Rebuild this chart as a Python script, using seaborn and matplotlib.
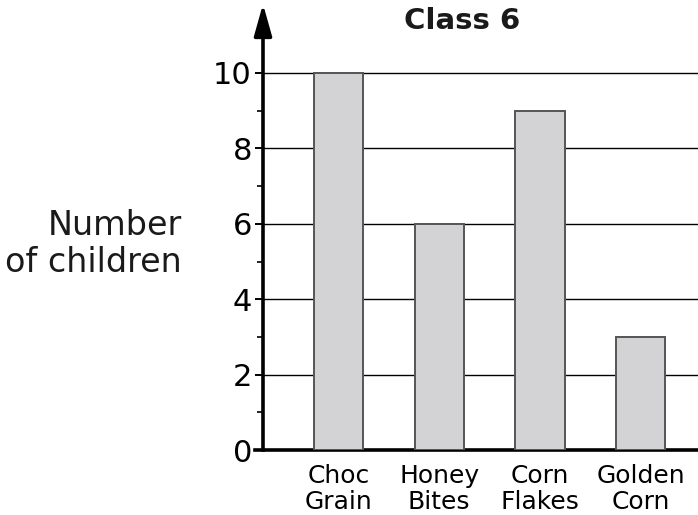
import matplotlib
matplotlib.use("Agg")
import matplotlib.pyplot as plt
import seaborn as sns
import pandas as pd

# data
cereals = ["Choc\nGrain", "Honey\nBites", "Corn\nFlakes", "Golden\nCorn"]
children = [10, 6, 9, 3]
title = "Class 6"
y_label = "Number\nof children"

df = pd.DataFrame({"cereal": cereals, "children": children})

sns.set_theme(style="white")
plt.rcParams["font.family"] = ["DejaVu Sans"]
plt.rcParams["text.color"] = "black"

fig = plt.figure(figsize=(6.98, 5.15), dpi=100)
ax = fig.add_axes([263 / 698, 1 - 450 / 515, 1 - 263 / 698, (450 - 30) / 515])

sns.barplot(data=df, x="cereal", y="children", order=cereals, color="#d3d3d5",
            saturation=1, width=0.49, edgecolor="#555555", linewidth=1.4,
            zorder=3, ax=ax)

ax.set_ylim(0, (450 - 30) / 37.7)
ax.set_xlim(-0.75, 3.57)
ax.set_yticks([0, 2, 4, 6, 8, 10])
ax.set_yticks([1, 3, 5, 7, 9], minor=True)
for v in [2, 4, 6, 8, 10]:
    ax.axhline(v, color="black", lw=1.0, zorder=1)

for side in ["top", "right"]:
    ax.spines[side].set_visible(False)
ax.spines["left"].set_linewidth(2.6)
ax.spines["bottom"].set_linewidth(2.6)
ax.spines["left"].set_color("black")
ax.spines["bottom"].set_color("black")
ax.spines["bottom"].set_bounds(-0.75 - 0.08, 3.57)

ax.tick_params(axis="y", which="major", left=True, length=6, width=1.4,
               labelsize=22, pad=2, colors="black")
ax.tick_params(axis="y", which="minor", left=True, length=4, width=1.2, colors="black")
ax.tick_params(axis="x", bottom=False, labelsize=18, pad=4, colors="black")
for lab in ax.get_xticklabels():
    lab.set_linespacing(1.1)

ax.set_xlabel("")
ax.set_ylabel("")

# arrow head on top of the y axis
ax.annotate("", xy=(0, 1 + 26 / 420), xycoords="axes fraction",
            xytext=(0, 0.99), textcoords="axes fraction",
            arrowprops=dict(arrowstyle="-|>,head_length=1.6,head_width=0.45",
                            color="black", lw=2.6, shrinkA=0, shrinkB=0),
            annotation_clip=False)

fig.text(462 / 698, 1 - 21 / 515, title, ha="center", va="center",
         fontsize=21, fontweight="bold", color="#1a1a1a")
fig.text(182 / 698, 1 - 244 / 515, y_label, ha="right", va="center",
         fontsize=24, linespacing=1.15, color="#1a1a1a")

fig.savefig("out.png", dpi=100)
